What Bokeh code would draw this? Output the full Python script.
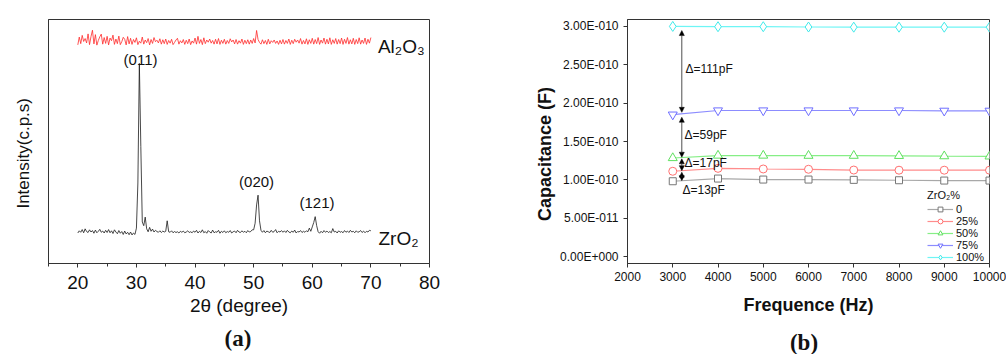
import numpy as np
from bokeh.plotting import figure
from bokeh.layouts import row, column
from bokeh.models import (Range1d, FixedTicker, CustomJSTickFormatter, Label, Arrow,
                          NormalHead, Legend, LegendItem, Div)
from bokeh.embed import file_html
from bokeh.resources import INLINE
from bokeh.core.properties import value

# ---------------- panel (a): XRD ----------------
two_theta_start = 20.0
two_theta_step = 0.25
zro2 = [
    12.5, 13.4, 12.8, 13.9, 12.6, 14.2, 13.1, 12.7, 13.8, 12.9, 13.5, 12.4, 13.7, 12.6, 13.2, 14.0, 12.8, 13.3, 12.5, 13.6,
    12.7, 13.9, 12.6, 13.4, 12.3, 13.8, 12.9, 12.2, 13.5, 12.4, 13.1, 11.9, 13.3, 12.1, 12.8, 11.8, 12.9, 11.7, 12.5, 11.9,
    14.5, 33.0, 82.0, 48.0, 17.0, 15.5, 19.0, 14.2, 13.0, 14.8, 13.2, 14.1, 12.9, 13.6, 13.1, 12.8, 13.4, 12.7, 13.3, 12.9,
    13.2, 17.5, 13.0, 12.8, 13.4, 12.6, 13.1, 12.7, 13.0, 12.5, 13.2, 12.8, 13.3, 12.6, 12.9, 13.4, 12.7, 13.0, 12.6, 13.3,
    12.8, 13.6, 12.5, 13.2, 12.7, 13.8, 12.6, 13.1, 12.4, 13.5, 12.9, 12.5, 13.7, 12.6, 13.0, 12.8, 13.6, 12.4, 13.2, 12.7,
    13.4, 12.6, 13.1, 12.8, 13.5, 12.5, 13.0, 13.3, 12.6, 13.6, 12.9, 12.7, 13.4, 12.8, 13.2, 12.6, 13.5, 12.9, 13.1, 13.8,
    13.8, 16.5, 24.0, 28.0, 17.5, 13.6, 12.8, 13.5, 12.6, 13.3, 13.0, 12.7, 13.6, 12.8, 13.1, 13.9, 12.6, 13.2, 12.9, 13.5,
    12.8, 13.4, 12.7, 13.6, 12.9, 12.6, 13.3, 12.8, 13.7, 12.5, 13.1, 12.9, 13.5, 12.7, 13.2, 12.8, 13.4, 13.0, 14.5, 13.2,
    15.0, 16.8, 19.2, 15.5, 13.0, 12.4, 13.2, 12.6, 13.5, 12.8, 13.3, 12.7, 13.1, 12.6, 14.3, 12.9, 13.2, 12.5, 13.4, 12.8,
    13.1, 12.6, 13.5, 12.8, 13.3, 12.7, 13.6, 12.9, 13.2, 12.6, 13.4, 12.8, 13.0, 13.5, 12.7, 13.3, 12.6, 13.2, 12.9, 13.6,
    13.4,
]
al2o3 = [
    89.6, 92.8, 90.1, 93.5, 91.0, 92.2, 90.4, 94.1, 89.7, 93.0, 95.6, 90.0, 93.8, 89.5, 91.4, 92.9, 94.0, 89.9, 92.6, 90.2,
    93.1, 89.6, 92.4, 91.3, 93.6, 89.8, 92.0, 90.1, 93.2, 89.7, 90.9, 92.7, 91.9, 89.6, 93.0, 90.0, 92.3, 89.8, 91.8, 90.6,
    92.5, 89.7, 91.1, 90.3, 92.8, 89.9, 91.6, 90.5, 92.2, 89.6, 91.8, 90.2, 92.6, 90.9, 91.5, 90.4, 92.1, 89.9, 91.7, 90.1,
    92.0, 89.8, 91.4, 90.3, 91.9, 89.7, 90.6, 91.6, 92.3, 89.9, 91.3, 90.4, 91.8, 89.8, 91.5, 90.1, 92.0, 89.7, 91.2, 90.3,
    92.4, 89.9, 93.1, 90.2, 91.8, 89.7, 92.5, 90.1, 91.6, 90.7, 92.0, 90.3, 91.4, 89.9, 91.9, 90.0, 92.2, 89.8, 91.5, 90.2,
    91.9, 89.9, 91.4, 90.2, 92.1, 90.8, 91.6, 90.0, 91.8, 89.9, 91.3, 90.3, 92.0, 89.8, 91.5, 90.1, 91.7, 89.9, 91.6, 90.2,
    92.2, 90.4, 95.5, 91.8, 90.6, 89.9, 91.7, 90.1, 91.4, 89.8, 91.9, 90.0, 91.3, 90.6, 91.6, 90.2, 91.2, 89.8, 91.5, 90.0,
    91.8, 89.9, 91.4, 90.2, 92.0, 89.8, 91.5, 90.1, 91.9, 90.7, 91.6, 90.3, 92.2, 89.9, 91.4, 90.0, 92.1, 89.8, 91.7, 90.2,
    92.3, 89.9, 91.8, 90.1, 92.6, 89.8, 91.6, 90.3, 92.4, 89.9, 91.9, 90.0, 92.5, 89.8, 91.7, 90.2, 92.2, 89.9, 91.8, 90.1,
    92.4, 89.8, 91.9, 90.2, 92.6, 89.9, 91.7, 90.0, 92.3, 89.8, 91.8, 90.1, 92.5, 89.9, 91.6, 90.2, 92.4, 89.8, 91.9, 90.3,
    92.6,
]
peak_labels = ["(011)", "(020)", "(121)"]
peak_x = [30.7, 50.5, 60.8]
peak_y = [80.3, 30.0, 21.4]
xrd_ticks = [20, 30, 40, 50, 60, 70, 80]
xrd_minor = [15, 25, 35, 45, 55, 65, 75]

# ---------------- panel (b): capacitance ----------------
freq = [3000, 4000, 5000, 6000, 7000, 8000, 9000, 10000]
series_names = ["0", "25%", "50%", "75%", "100%"]
cap_0 = [98.2, 101.7, 100.4, 100.4, 100.0, 99.5, 99.1, 99.1]      # pF
cap_25 = [111.2, 115.0, 114.2, 113.8, 112.8, 112.6, 112.6, 112.6]
cap_50 = [128.5, 131.7, 131.7, 131.5, 131.5, 131.3, 130.9, 130.6]
cap_75 = [185.0, 190.4, 190.4, 190.4, 190.4, 190.4, 190.0, 190.0]
cap_100 = [300.0, 299.6, 299.6, 299.2, 299.0, 299.0, 299.0, 299.0]
cap_ticks = [0, 50, 100, 150, 200, 250, 300]
freq_ticks = [2000, 3000, 4000, 5000, 6000, 7000, 8000, 9000, 10000]
delta_labels = ["\u0394=111pF", "\u0394=59pF", "\u0394=17pF", "\u0394=13pF"]
delta_x = [3282, 3260, 3260, 3215]
delta_y = [244.7, 159.0, 121.6, 86.9]
arrow_y0 = [294.6, 181.6, 127.4, 110.0]
arrow_y1 = [188.0, 129.5, 112.0, 99.0]
captions = ["(a)", "(b)"]

FONT = "Liberation Sans"
AX = "#333333"
NB = "\u00a0"
FIG_H = 352

# ---------- figure a ----------
p1 = figure(width=500, height=FIG_H, x_range=Range1d(15, 80), y_range=Range1d(0, 100),
            output_backend="svg", toolbar_location=None,
            min_border_left=48, min_border_right=71, min_border_top=17,
            min_border_bottom=FIG_H - 17 - 254)
p1.grid.visible = False
p1.outline_line_color = AX
p1.background_fill_color = "white"
p1.border_fill_color = "white"

xa = p1.xaxis[0]
xa.ticker = FixedTicker(ticks=xrd_ticks, minor_ticks=xrd_minor)
xa.major_tick_in = 0
xa.major_tick_out = 4
xa.minor_tick_in = 0
xa.minor_tick_out = 3
xa.axis_line_color = AX
xa.major_tick_line_color = AX
xa.minor_tick_line_color = AX
xa.major_label_text_font = FONT
xa.major_label_text_font_size = "19px"
xa.major_label_text_color = "#111111"
xa.major_label_standoff = 8
xa.axis_label = "2\u03b8 (degree)"
xa.axis_label_text_font = FONT
xa.axis_label_text_font_size = "19px"
xa.axis_label_text_font_style = "normal"
xa.axis_label_text_color = "#111111"
xa.axis_label_standoff = 3

ya = p1.yaxis[0]
ya.ticker = FixedTicker(ticks=[])
ya.major_tick_line_color = None
ya.minor_tick_line_color = None
ya.axis_line_color = AX
ya.axis_label = "Intensity(c.p.s)" + NB * 5
ya.axis_label_text_font = FONT
ya.axis_label_text_font_size = "17px"
ya.axis_label_text_font_style = "normal"
ya.axis_label_text_color = "#111111"
ya.axis_label_standoff = 16

two_theta = two_theta_start + two_theta_step * np.arange(len(zro2))
p1.line(two_theta, al2o3, line_color="#ff2a2a", line_width=0.8)
p1.line(two_theta, zro2, line_color="#1a1a1a", line_width=0.8)
p1.text(x=peak_x, y=peak_y, text=peak_labels, text_align="center", text_baseline="bottom",
        text_font=value(FONT), text_font_size="15px", text_color="#111111")
p1.add_layout(Label(x=71.2, y=89.0, text="Al\u2082O\u2083", text_baseline="middle",
                    text_font=FONT, text_font_size="19px", text_color="#111111"))
p1.add_layout(Label(x=71.3, y=10.2, text="ZrO\u2082", text_baseline="middle",
                    text_font=FONT, text_font_size="19px", text_color="#111111"))

# ---------- figure b ----------
p2 = figure(width=506, height=FIG_H, x_range=Range1d(2000, 10000), y_range=Range1d(-9, 309),
            output_backend="svg", toolbar_location=None,
            min_border_left=127, min_border_right=17, min_border_top=19,
            min_border_bottom=FIG_H - 19 - 244)
p2.grid.visible = False
p2.outline_line_color = AX
p2.background_fill_color = "white"
p2.border_fill_color = "white"

xb = p2.xaxis[0]
xb.ticker = FixedTicker(ticks=freq_ticks)
xb.major_tick_in = 0
xb.major_tick_out = 4
xb.minor_tick_line_color = None
xb.axis_line_color = AX
xb.major_tick_line_color = AX
xb.major_label_text_font = FONT
xb.major_label_text_font_size = "12px"
xb.major_label_text_color = "#111111"
xb.major_label_standoff = 4
xb.axis_label = "Frequence (Hz)"
xb.axis_label_text_font = FONT
xb.axis_label_text_font_size = "18px"
xb.axis_label_text_font_style = "bold"
xb.axis_label_text_color = "#111111"
xb.axis_label_standoff = 11

yb = p2.yaxis[0]
yb.ticker = FixedTicker(ticks=cap_ticks)
yb.formatter = CustomJSTickFormatter(code="""
    if (Math.abs(tick) < 1e-9) { return "0.00E+000"; }
    const e0 = Math.floor(Math.log10(Math.abs(tick)) + 1e-9);
    const m = tick / Math.pow(10, e0);
    const e = e0 - 12;
    const s = Math.abs(e).toString().padStart(3, "0");
    return m.toFixed(2) + "E" + (e < 0 ? "-" : "+") + s;
""")
yb.major_tick_in = 0
yb.major_tick_out = 4
yb.minor_tick_line_color = None
yb.axis_line_color = AX
yb.major_tick_line_color = AX
yb.major_label_text_font = FONT
yb.major_label_text_font_size = "12px"
yb.major_label_text_color = "#111111"
yb.major_label_standoff = 5
yb.axis_label = "Capacitance (F)" + NB * 5
yb.axis_label_text_font = FONT
yb.axis_label_text_font_size = "18px"
yb.axis_label_text_font_style = "bold"
yb.axis_label_text_color = "#111111"
yb.axis_label_standoff = 2

series = [cap_0, cap_25, cap_50, cap_75, cap_100]
line_colors = ["#a8a8a8", "#ff8c8c", "#86ee86", "#8c8cff", "#6ef5f5"]
marker_colors = ["#777777", "#ff7070", "#5fe05f", "#6f6fff", "#40eaea"]
markers = ["square", "circle", "triangle", "inverted_triangle", "diamond"]
sizes = [7, 8, 9, 9, 10]
items = []
for name, vals, lc, mc, mk, sz in zip(series_names, series, line_colors, marker_colors, markers, sizes):
    lr = p2.line(freq, vals, line_color=lc, line_width=1.2)
    sr = p2.scatter(freq, vals, marker=mk, size=sz, line_color=mc, fill_color="white", line_width=1)
    items.append(LegendItem(label=name, renderers=[lr, sr]))

for y0, y1 in zip(arrow_y0, arrow_y1):
    p2.add_layout(Arrow(start=NormalHead(size=5, line_color="black", fill_color="black", line_width=0.5),
                        end=NormalHead(size=5, line_color="black", fill_color="black", line_width=0.5),
                        x_start=3200, y_start=y0, x_end=3200, y_end=y1,
                        line_color="#222222", line_width=0.8))

p2.text(x=delta_x, y=delta_y, text=delta_labels, text_align="left", text_baseline="middle",
        text_font=value(FONT), text_font_size="12px", text_color="#111111")

legend = Legend(items=items, location=(300, 0), title="ZrO\u2082%",
                title_text_font=FONT, title_text_font_size="11px", title_text_font_style="normal",
                title_text_color="#111111", title_standoff=2,
                label_text_font=FONT, label_text_font_size="11px", label_text_color="#111111",
                glyph_width=26, glyph_height=12, label_height=12, label_standoff=3,
                spacing=0, padding=1, margin=0,
                border_line_color=None, background_fill_alpha=0)
p2.add_layout(legend)

# ---------- captions (overlapping upward into the figures' empty bottom border) ----------
CAP_STYLE = ("font-family:'Liberation Serif',serif;font-weight:bold;font-size:23px;"
             "line-height:22px;color:#111111;text-align:center;width:60px;position:relative;")
cap_a = Div(text=f"<div style=\"{CAP_STYLE}left:208px;top:-24px;\">{captions[0]}</div>",
            width=500, height=354 - FIG_H, margin=0, styles={"overflow": "visible"})
cap_b = Div(text=f"<div style=\"{CAP_STYLE}left:274px;top:-20px;\">{captions[1]}</div>",
            width=506, height=354 - FIG_H, margin=0, styles={"overflow": "visible"})

layout = column(row(p1, p2), row(cap_a, cap_b))
with open("out.html", "w") as f:
    f.write(file_html(layout, INLINE))
